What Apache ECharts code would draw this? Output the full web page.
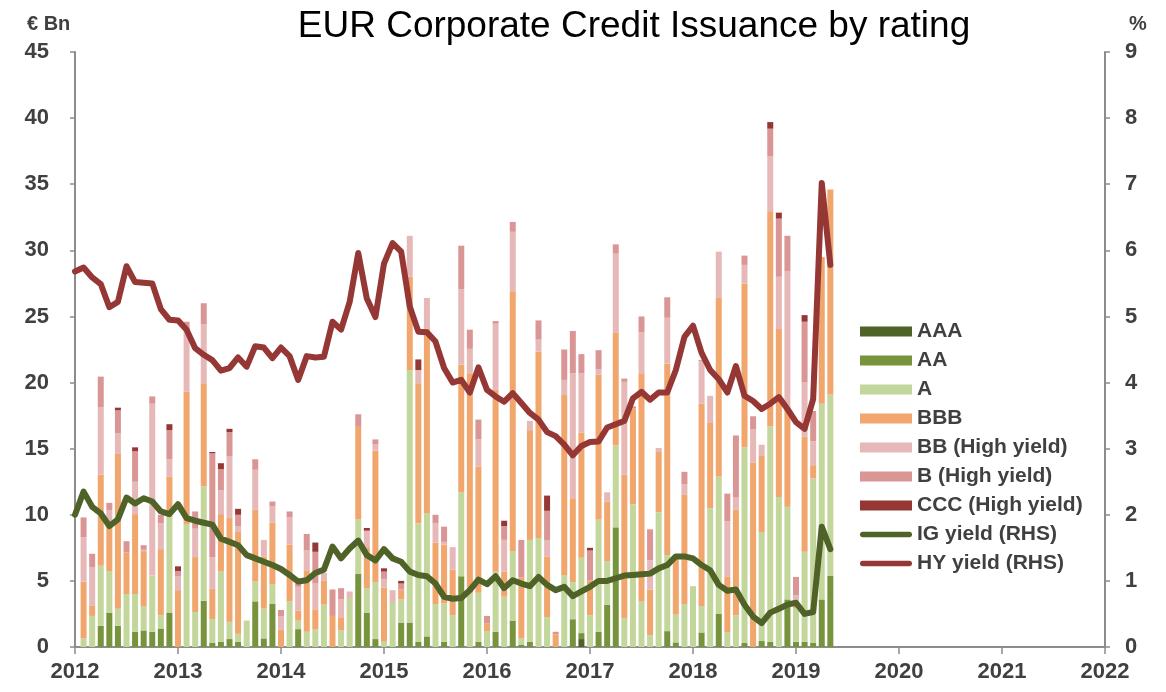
<!DOCTYPE html>
<html>
<head>
<meta charset="utf-8">
<script src="https://cdn.jsdelivr.net/npm/echarts@6/dist/echarts.min.js"></script>
<style>
html, body { margin: 0; padding: 0; background: #fff; }
#chart { width: 1166px; height: 692px; }
</style>
</head>
<body>
<div id="chart"></div>
<script>
// monthly issuance, Jan 2012 .. Apr 2019 (EUR bn)
let aaa = [0,0,0,0,0,0,0,0,0,0,0,0, 0,0,0,0,0,0,0,0,0,0,0,0,
    0,0,0,0,0,0,0,0,0,0,0,0, 0,0,0,0,0,0,0,0,0,0,0,0,
    0,0,0,0,0,0,0,0,0,0,0.6,0, 0,0,0,0,0,0,0,0,0,0,0,0,
    0,0,0,0,0,0,0,0,0,0,0,0, 0,0,0,0];
let aa = [0,0,1.6,2.6,1.6,0,1.15,1.25,1.15,1.4,2.6,0,
    0,0,3.5,0.3,0.4,0.6,0.4,0,3.45,0.65,3.25,0,
    0,1.35,0,0,0,0,0,0,5.55,2.6,0.6,0,
    0,1.85,1.85,0.4,0.8,0,0.4,0,5.35,0,0.4,0,
    1.15,0,2.0,0.15,0.4,0,0,0,0,2.1,0.45,0,
    1.15,3.2,9.05,0,0,0,0,0,1.2,0.35,0,0,
    1.1,0,2.5,0,0,0.3,0,0.45,0.4,0,3.6,0.4,
    0.4,0.3,3.6,5.4];
let a = [0.65,2.35,4.55,3.15,1.3,4.0,2.85,1.85,4.25,1.0,7.25,0,
    9.3,2.65,8.65,1.8,5.3,1.3,0.6,2.0,1.5,2.25,1.5,0,
    3.45,0.65,1.15,1.35,3.2,0,1.25,3.7,4.1,1.85,4.3,0.4,
    3.4,1.75,19.1,8.95,9.3,3.25,2.9,2.4,6.35,4.05,3.7,1.2,
    4.55,3.8,5.25,0.5,7.7,8.25,2.25,0,5.45,2.8,5.7,2.4,
    8.5,3.3,6.2,2.15,10.8,3.45,0.9,10.2,5.75,2.1,3.25,4.6,
    2.0,10.5,10.4,1.1,2.4,14.8,0,8.25,16.3,11.35,7.0,2.5,
    6.8,12.45,14.8,13.7];
let bbb = [4.3,0.8,6.9,3.4,11.7,3.15,6.05,4.15,0,5.0,3.05,4.3,
    10.0,4.15,7.8,2.3,4.35,7.85,7.75,0,5.45,3.95,4.65,1.3,
    4.3,0.75,4.65,1.5,1.8,2.35,1.0,0,7.0,3.1,9.95,4.1,
    0,0.75,7.05,10.6,14.0,4.65,4.45,3.45,9.65,16.65,9.55,0.6,
    13.75,1.9,19.6,4.6,8.3,14.1,4.6,0.95,13.6,6.35,9.45,2.65,
    10.95,4.5,8.5,10.9,7.25,17.25,3.45,4.55,14.5,4.2,8.25,0,
    15.3,6.5,13.5,4.2,8.0,12.4,13.95,5.75,16.2,12.7,7.6,0.5,
    8.7,1.0,11.1,15.5];
let bb = [3.35,2.9,5.1,1.2,1.55,0,2.45,0.1,13.0,1.95,1.3,1.05,
    4.65,2.15,4.45,2.4,1.8,4.65,0.4,0,3.0,1.25,1.25,1.0,
    2.05,1.8,1.5,1.95,0.6,0,1.35,0.5,0,1.25,0.5,0.65,
    0.9,0,3.1,1.0,2.3,1.45,0.2,1.7,5.7,1.85,2.05,0,
    5.0,2.4,4.55,0,0.7,0.9,1.2,0,1.15,9.45,4.5,0,
    0.4,0.7,6.0,7.0,0,3.1,2.2,0.3,3.45,0,0.8,0,
    3.2,2.0,3.5,4.2,0.9,1.4,2.5,0.85,4.2,3.95,10.2,0.5,
    4.1,1.8,0,0];
let b = [1.5,1.0,2.3,0.55,1.75,0.85,2.3,0.35,0.55,0.65,2.2,0.4,
    0.65,1.3,1.6,7.85,1.6,1.85,0.85,0,0.8,0,0.35,0.5,
    0.45,0.25,1.25,2.4,0,2.0,0.85,0,0.95,0,0.35,0.55,
    0,0.45,0,0,0,0.65,1.15,0,3.3,1.45,1.5,0.55,
    0.2,1.05,0.75,2.85,0,1.45,2.25,0.2,2.3,3.2,1.45,2.25,
    1.45,0,0.7,0.25,0.15,1.2,2.35,0,1.55,0,0.95,0,
    0.1,0,0,2.1,4.7,0.7,1.0,0,2.1,4.4,2.7,1.4,
    4.6,2.3,0,0];
let ccc = [0,0,0,0,0.2,0,0.3,0,0,0,0.45,0.35,
    0,0,0,0.1,0.45,0.25,0.45,0,0,0,0,0,
    0,0,0,0.7,0,0,0,0,0,0.2,0,0.25,
    0,0.2,0,0.8,0,0,0,0,0,0,0,0,
    0,0.4,0,0,0,0,1.15,0,0,0,0,0.2,
    0,0,0,0,0,0,0,0,0,0,0,0,
    0,0,0,0,0,0,0,0,0.5,0.45,0,0,
    0.5,0,0,0];

// yields (%), Dec 2011 .. Apr 2019
let igYield = [2.0,2.35,2.12,2.02,1.83,1.93,2.26,2.17,2.25,2.2,2.05,2.01,
    2.16,1.95,1.91,1.88,1.85,1.64,1.59,1.54,1.39,1.34,1.29,1.24,
    1.18,1.09,0.99,1.01,1.12,1.17,1.52,1.34,1.49,1.61,1.39,1.31,
    1.48,1.34,1.29,1.14,1.09,1.07,0.96,0.76,0.73,0.74,0.86,1.02,
    0.95,1.07,0.89,1.01,0.96,0.92,1.06,0.94,0.86,0.91,0.77,0.84,
    0.91,1.0,1.0,1.04,1.08,1.09,1.1,1.11,1.19,1.24,1.37,1.37,
    1.34,1.24,1.16,0.94,0.85,0.87,0.64,0.46,0.36,0.52,0.58,0.64,
    0.67,0.5,0.53,1.82,1.48];
let hyYield = [5.68,5.74,5.59,5.49,5.14,5.22,5.76,5.52,5.51,5.5,5.11,4.95,
    4.94,4.8,4.52,4.42,4.34,4.18,4.22,4.38,4.24,4.55,4.53,4.37,
    4.53,4.4,4.04,4.4,4.38,4.39,4.92,4.8,5.22,5.96,5.27,4.99,
    5.8,6.11,5.98,5.15,4.77,4.76,4.62,4.22,4.0,4.04,3.85,4.23,
    3.89,3.79,3.71,3.84,3.69,3.54,3.44,3.25,3.19,3.06,2.9,3.04,
    3.1,3.11,3.32,3.37,3.42,3.76,3.86,3.74,3.85,3.85,4.19,4.69,
    4.86,4.45,4.19,4.05,3.85,4.25,3.8,3.72,3.6,3.68,3.78,3.6,
    3.4,3.3,3.75,7.02,5.78];

let ratingNames = ['AAA', 'AA', 'A', 'BBB', 'BB (High yield)', 'B (High yield)', 'CCC (High yield)'];
let ratingData = [aaa, aa, a, bbb, bb, b, ccc];
let ratingColors = ['#4F6228', '#77933C', '#C3D69B', '#F0A66C', '#E6B9B8', '#D99694', '#953735'];

let font = "'Liberation Sans', Arial, sans-serif";
let textColor = '#404040';
let axisColor = '#8C8C8C';

// month slots from Dec 2011 (start of 2012) to Dec 2021 (start of 2022)
let slots = [];
for (let k = 0; k <= 120; k++) {
    let y = 2012 + Math.floor(k / 12);
    let m = k % 12 + 1;
    slots.push(y + '-' + (m < 10 ? '0' + m : m));
}

// bar for month i is drawn at slot i + 1, line point k at slot k
function barSlots(arr) {
    return slots.map(function (s, k) { return (k >= 1 && k <= arr.length) ? arr[k - 1] : '-'; });
}
function lineSlots(arr) {
    return slots.map(function (s, k) { return k < arr.length ? arr[k] : '-'; });
}

let series = [];
ratingNames.forEach(function (name, idx) {
    series.push({
        name: name,
        type: 'bar',
        stack: 'rating',
        barWidth: 6,
        itemStyle: { color: ratingColors[idx] },
        data: barSlots(ratingData[idx])
    });
});
series.push({
    name: 'IG yield (RHS)',
    type: 'line',
    yAxisIndex: 1,
    symbol: 'none',
    z: 5,
    lineStyle: { color: '#4F6228', width: 6, cap: 'round', join: 'round' },
    itemStyle: { color: '#4F6228' },
    data: lineSlots(igYield)
});
series.push({
    name: 'HY yield (RHS)',
    type: 'line',
    yAxisIndex: 1,
    symbol: 'none',
    z: 5,
    lineStyle: { color: '#953735', width: 6, cap: 'round', join: 'round' },
    itemStyle: { color: '#953735' },
    data: lineSlots(hyYield)
});

let lineIcon = 'path://M3,0L53,0A3,3,0,0,1,53,6L3,6A3,3,0,0,1,3,0Z';

let chart = echarts.init(document.getElementById('chart'));

let option = {
    animation: false,
    backgroundColor: '#fff',
    textStyle: { fontFamily: font },
    title: [{
        text: 'EUR Corporate Credit Issuance by rating',
        left: 629,
        top: 3,
        textAlign: 'center',
        textStyle: { fontFamily: font, fontSize: 37, fontWeight: 'normal', color: '#000' }
    }, {
        text: '€ Bn',
        left: 22,
        top: 9,
        textStyle: { fontFamily: font, fontSize: 20, fontWeight: 'bold', color: textColor }
    }, {
        text: '%',
        left: 1124,
        top: 9,
        textStyle: { fontFamily: font, fontSize: 20, fontWeight: 'bold', color: textColor }
    }],
    legend: {
        orient: 'vertical',
        left: 860,
        top: 321,
        padding: 0,
        itemWidth: 52,
        itemHeight: 10,
        itemGap: 8,
        textStyle: { fontFamily: font, fontSize: 21, fontWeight: 'bold', color: textColor },
        data: ratingNames.map(function (n) { return { name: n, icon: 'rect' }; })
            .concat([{ name: 'IG yield (RHS)', icon: lineIcon }, { name: 'HY yield (RHS)', icon: lineIcon }])
    },
    grid: { left: 75, right: 61, top: 52, bottom: 45 },
    xAxis: {
        type: 'category',
        data: slots,
        boundaryGap: false,
        axisLine: { show: true, lineStyle: { color: axisColor, width: 2 } },
        axisTick: {
            show: true,
            length: 7,
            interval: function (idx) { return idx % 12 === 0; },
            lineStyle: { color: axisColor, width: 1.5 }
        },
        splitLine: { show: false },
        axisLabel: {
            margin: 14,
            fontSize: 22,
            fontWeight: 'bold',
            color: textColor,
            fontFamily: font,
            interval: function (idx) { return idx % 12 === 0; },
            formatter: function (v) { return v.slice(0, 4); }
        }
    },
    yAxis: [{
        type: 'value',
        min: 0,
        max: 45,
        interval: 5,
        axisLine: { show: true, lineStyle: { color: axisColor, width: 2 } },
        axisTick: { show: true, length: 5, lineStyle: { color: axisColor, width: 1.5 } },
        splitLine: { show: false },
        axisLabel: { margin: 26, fontSize: 22, fontWeight: 'bold', color: textColor, fontFamily: font }
    }, {
        type: 'value',
        min: 0,
        max: 9,
        interval: 1,
        position: 'right',
        axisLine: { show: true, lineStyle: { color: axisColor, width: 2 } },
        axisTick: { show: true, length: 5, lineStyle: { color: axisColor, width: 1.5 } },
        splitLine: { show: false },
        axisLabel: { margin: 20, fontSize: 22, fontWeight: 'bold', color: textColor, fontFamily: font }
    }],
    series: series
};

chart.setOption(option);
</script>
</body>
</html>
